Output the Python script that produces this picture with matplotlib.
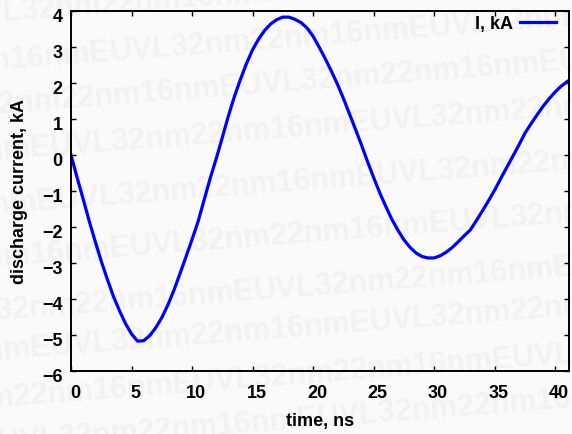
import numpy as np
import matplotlib
matplotlib.use("Agg")
import matplotlib.pyplot as plt
import matplotlib.transforms as mtransforms

# discharge current (0.5 ns step)
time_ns = [0.0, 0.5, 1.0, 1.5, 2.0, 2.5, 3.0, 3.5, 4.0, 4.5, 5.0, 5.5, 6.0, 6.5,
           7.0, 7.5, 8.0, 8.5, 9.0, 9.5, 10.0, 10.5, 11.0, 11.5, 12.0, 12.5,
           13.0, 13.5, 14.0, 14.5, 15.0, 15.5, 16.0, 16.5, 17.0, 17.5, 18.0,
           18.5, 19.0, 19.5, 20.0, 20.5, 21.0, 21.5, 22.0, 22.5, 23.0, 23.5,
           24.0, 24.5, 25.0, 25.5, 26.0, 26.5, 27.0, 27.5, 28.0, 28.5, 29.0,
           29.5, 30.0, 30.5, 31.0, 31.5, 32.0, 32.5, 33.0, 33.5, 34.0, 34.5,
           35.0, 35.5, 36.0, 36.5, 37.0, 37.5, 38.0, 38.5, 39.0, 39.5, 40.0,
           40.5, 41.0, 41.5]
current_kA = [0.00, -0.62, -1.22, -1.83, -2.40, -2.95, -3.45, -3.92, -4.32, -4.68,
              -4.97, -5.17, -5.16, -5.02, -4.80, -4.52, -4.17, -3.76, -3.30, -2.83,
              -2.35, -1.85, -1.25, -0.65, -0.10, 0.48, 1.08, 1.62, 2.10, 2.54,
              2.92, 3.22, 3.46, 3.64, 3.76, 3.83, 3.83, 3.77, 3.68, 3.53, 3.30,
              3.00, 2.68, 2.34, 1.98, 1.58, 1.15, 0.72, 0.28, -0.18, -0.62, -1.04,
              -1.42, -1.78, -2.08, -2.35, -2.56, -2.72, -2.82, -2.86, -2.86, -2.80,
              -2.70, -2.57, -2.41, -2.24, -2.08, -1.82, -1.55, -1.27, -0.98, -0.66,
              -0.35, -0.04, 0.27, 0.60, 0.86, 1.11, 1.35, 1.56, 1.75, 1.91, 2.04,
              2.14]

xticks = [0, 5, 10, 15, 20, 25, 30, 35, 40]
yticks = [-6, -5, -4, -3, -2, -1, 0, 1, 2, 3, 4]

plt.rcParams['font.family'] = ['Liberation Sans', 'DejaVu Sans']
plt.rcParams['font.weight'] = 'bold'

W, H = 572, 434
fig = plt.figure(figsize=(W / 100, H / 100), dpi=100, facecolor='#fafafa')

# faint watermark in the background
wm = "EUVL32nm22nm16nm"
ang = 4.4
probe = fig.text(0, 0, wm, fontsize=22, fontweight='bold')
fig.canvas.draw()
period = probe.get_window_extent().width
probe.remove()
rows = [(15, 263), (63, 93), (107, 223), (153, 353), (207, 40), (260, 113),
        (313, 237), (353, 353), (400, 176), (445, 300)]
for yl, xe in rows:
    xs = xe - 3 * period
    ys = yl + np.tan(np.radians(ang)) * (80 - xs)
    fig.text(xs / W, 1 - ys / H, wm * 6, fontsize=22, fontweight='bold',
             color='#f2f2f2', rotation=ang, rotation_mode='anchor',
             ha='left', va='baseline', zorder=-10)

ax = fig.add_axes([71 / W, 1 - 371 / H, (569 - 71) / W, (371 - 11) / H])
ax.set_zorder(5)
ax.set_facecolor('none')
ax.plot(time_ns, current_kA, color='#0000ff', lw=2.3, label='I, kA')
ax.set_xlim(0, 41.15)
ax.set_ylim(-6, 4)
ax.set_xticks(xticks)
ax.set_yticks(yticks)
ax.tick_params(direction='in', length=3.5, width=1, top=True, right=True,
               labelsize=13)
ax.tick_params(axis='x', pad=10)
ax.tick_params(axis='y', pad=6)
for sp in ax.spines.values():
    sp.set_linewidth(1.4)

dy = mtransforms.ScaledTranslation(0, -0.05, fig.dpi_scale_trans)
for lab in ax.get_yticklabels():
    lab.set_transform(lab.get_transform() + dy)
dx = mtransforms.ScaledTranslation(0.04, 0, fig.dpi_scale_trans)
for lab in ax.get_xticklabels():
    lab.set_transform(lab.get_transform() + dx)

ax.set_xlabel('time, ns', fontsize=13, fontweight='bold', labelpad=8)
ax.set_ylabel('discharge current, kA', fontsize=13, fontweight='bold', labelpad=10)

ax.legend(loc='center right', bbox_to_anchor=(556 / W, 1 - 24 / H),
          bbox_transform=fig.transFigure, frameon=False, fontsize=13,
          handlelength=2.0, handletextpad=0.4, borderpad=0, borderaxespad=0,
          markerfirst=False)

fig.savefig('out.png', dpi=100, facecolor=fig.get_facecolor())
